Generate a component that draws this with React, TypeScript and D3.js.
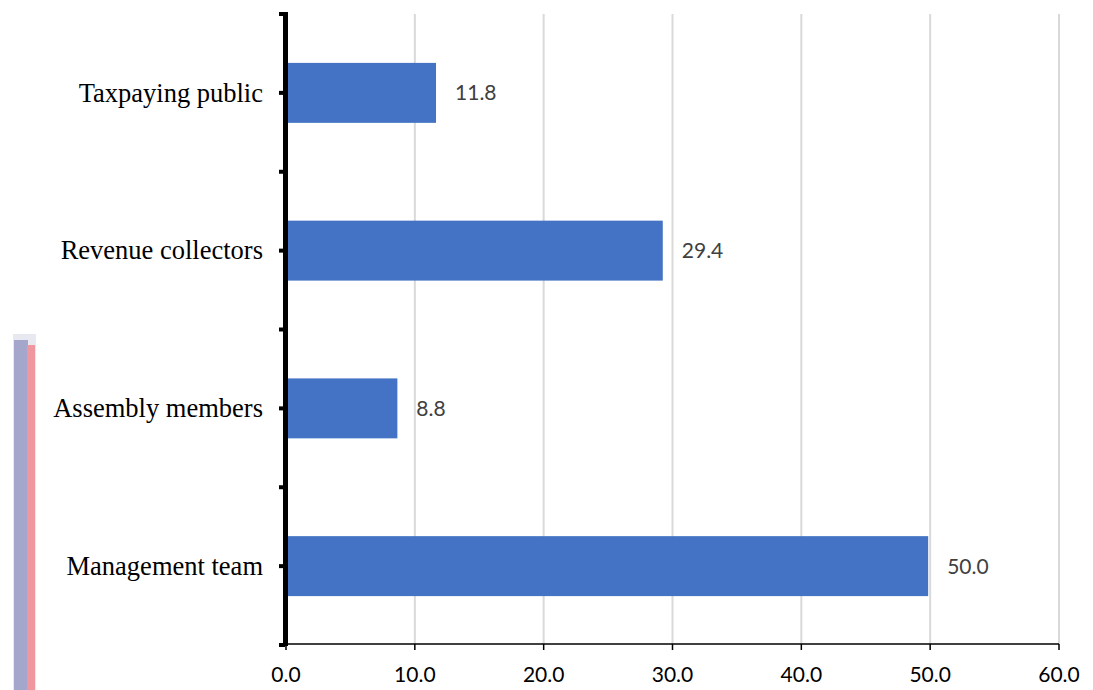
import { useEffect, useRef } from 'react'
import * as d3 from 'd3'

const categories = ['Taxpaying public', 'Revenue collectors', 'Assembly members', 'Management team']
const values = [11.8, 29.4, 8.8, 50.0]
const xTicks = [0, 10, 20, 30, 40, 50, 60]

export default function App() {
  const ref = useRef<SVGSVGElement | null>(null)
  useEffect(() => {
    const width = 1093
    const height = 690
    const svg = d3.select(ref.current).attr('width', width).attr('height', height)
    svg.selectAll('*').remove()

    // stray scan artifact on the left edge of the source image
    svg.append('rect').attr('x', 13).attr('y', 334).attr('width', 23).attr('height', 356).attr('fill', '#e8e8f0')
    svg.append('rect').attr('x', 14).attr('y', 340).attr('width', 14).attr('height', 350).attr('fill', '#a4a6cc')
    svg.append('rect').attr('x', 27).attr('y', 345).attr('width', 8).attr('height', 345).attr('fill', '#f0969e')

    const x = d3.scaleLinear().domain([0, 60]).range([286, 1059])
    const y = d3.scaleBand<string>().domain(categories).range([14, 645]).paddingInner(0.62).paddingOuter(0.31)
    const bandTop = d3.scaleBand<string>().domain(categories).range([14, 645])
    const yBottom = 644

    // grid
    svg.append('g')
      .selectAll('line')
      .data(xTicks.slice(1))
      .enter()
      .append('line')
      .attr('x1', (d: number) => x(d))
      .attr('x2', (d: number) => x(d))
      .attr('y1', 14)
      .attr('y2', yBottom)
      .attr('stroke', '#d9d9d9')
      .attr('stroke-width', 2)

    // bars
    svg.append('g')
      .selectAll('rect')
      .data(categories)
      .enter()
      .append('rect')
      .attr('x', x(0))
      .attr('y', (d: string) => y(d) ?? 0)
      .attr('width', (_: string, i: number) => x(values[i]) - x(0) - 2)
      .attr('height', y.bandwidth())
      .attr('fill', '#4472c4')

    // value labels
    svg.append('g')
      .selectAll('text')
      .data(categories)
      .enter()
      .append('text')
      .attr('x', (_: string, i: number) => x(values[i]) + 17)
      .attr('y', (d: string) => (y(d) ?? 0) + y.bandwidth() / 2)
      .attr('dy', '0.36em')
      .attr('font-family', 'Lato, "Open Sans", sans-serif')
      .attr('font-size', 21)
      .attr('fill', '#404040')
      .text((_: string, i: number) => values[i].toFixed(1))

    // x axis
    const xa = svg.append('g')
    xa.append('line').attr('x1', x(0)).attr('x2', x(60)).attr('y1', yBottom).attr('y2', yBottom).attr('stroke', '#000').attr('stroke-width', 1.5)
    xa.selectAll('line.t')
      .data(xTicks)
      .enter()
      .append('line')
      .attr('class', 't')
      .attr('x1', (d: number) => x(d))
      .attr('x2', (d: number) => x(d))
      .attr('y1', yBottom)
      .attr('y2', yBottom + 6)
      .attr('stroke', '#000')
      .attr('stroke-width', 1.5)
    xa.selectAll('text')
      .data(xTicks)
      .enter()
      .append('text')
      .attr('x', (d: number) => x(d))
      .attr('y', 682)
      .attr('text-anchor', 'middle')
      .attr('font-family', 'Lato, "Open Sans", sans-serif')
      .attr('font-size', 21)
      .attr('fill', '#000')
      .text((d: number) => d.toFixed(1))

    // y axis (thick)
    svg.append('rect').attr('x', 283).attr('y', 12).attr('width', 5).attr('height', 634).attr('fill', '#000')
    const marks = categories.flatMap((c) => {
      const t = bandTop(c) ?? 0
      return [t, t + bandTop.bandwidth() / 2]
    })
    marks.push(645)
    svg.append('g')
      .selectAll('rect')
      .data(marks)
      .enter()
      .append('rect')
      .attr('x', 279)
      .attr('y', (d: number) => d - 2)
      .attr('width', 6)
      .attr('height', 4)
      .attr('fill', '#000')

    // category labels
    svg.append('g')
      .selectAll('text')
      .data(categories)
      .enter()
      .append('text')
      .attr('x', 263)
      .attr('y', (d: string) => (y(d) ?? 0) + y.bandwidth() / 2)
      .attr('dy', '0.33em')
      .attr('text-anchor', 'end')
      .attr('font-family', '"Liberation Serif", "Times New Roman", serif')
      .attr('font-size', 26.5)
      .attr('fill', '#000')
      .text((d: string) => d)
  }, [])
  return <svg ref={ref} style={{ position: 'absolute', left: 0, top: 0, display: 'block' }} />
}
